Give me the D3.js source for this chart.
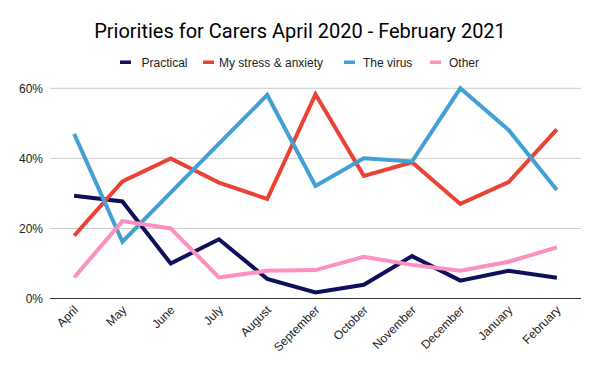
<!DOCTYPE html>
<html><head><meta charset="utf-8">
<script src="https://cdn.jsdelivr.net/npm/d3@7"></script>
<style>body{margin:0;background:#fff}svg{display:block}</style>
</head><body><svg id="c" width="600" height="371"></svg>
<script>
const months = ["April","May","June","July","August","September","October","November","December","January","February"];
const practical = [29.3,27.7,10.0,16.9,5.6,1.7,3.9,12.1,5.1,7.9,5.9];
const stress = [17.9,33.4,40.0,33.1,28.4,58.3,35.0,38.9,27.0,33.2,48.3];
const virus = [47.0,16.2,30.2,44.2,58.1,32.1,40.0,39.1,60.0,48.1,31.0];
const other = [6.0,22.1,20.0,6.0,7.9,8.1,11.9,9.6,7.9,10.5,14.6];
const seriesNames = ["Practical","My stress & anxiety","The virus","Other"];
const yTicks = [0,20,40,60];

const colors = ["#0f0f5c","#ea4335","#42a0d5","#fc90be"];
const series = [practical, stress, virus, other];
const FONT = "'Liberation Sans', Arial, sans-serif";

const svg = d3.select("#c");
const L = 50, R = 581, T = 88.3, B = 298.5;
const x = d3.scalePoint().domain(months).range([L, R]).padding(0.5);
const y = d3.scaleLinear().domain([0,60]).range([B, T]);

svg.append("text").attr("x", 300).attr("y", 37.5).attr("text-anchor","middle")
  .attr("font-family","Roboto").attr("font-size", 20).attr("fill","#000")
  .text("Priorities for Carers April 2020 - February 2021");

// gridlines
svg.append("g").selectAll("line").data(yTicks.filter(d=>d>0)).join("line")
  .attr("x1", L).attr("x2", R).attr("y1", d=>y(d)).attr("y2", d=>y(d))
  .attr("stroke","#cccccc").attr("stroke-width",1);

// y labels
const yAxis = svg.append("g").attr("transform",`translate(${L},0)`)
  .call(d3.axisLeft(y).tickValues(yTicks).tickFormat(d=>d+"%").tickSize(0).tickPadding(7));
yAxis.select(".domain").remove();
yAxis.selectAll("text").style("font-family",FONT).style("font-size","12px").attr("fill","#222");

// x axis
const xAxis = svg.append("g").attr("transform",`translate(0,${B})`)
  .call(d3.axisBottom(x).tickSize(0).tickPadding(6));
xAxis.select(".domain").attr("stroke","#333").attr("stroke-width",1.2).attr("d",`M${L},0H${R}`);
xAxis.selectAll("text").style("font-family",FONT).style("font-size","12px").attr("fill","#222")
  .attr("text-anchor","end").attr("dy","0.35em")
  .attr("transform","translate(-3,5) rotate(-45)");

// lines
const line = d3.line().x((d,i)=>x(months[i])).y(d=>y(d));
series.forEach((s,k)=>{
  svg.append("path").datum(s).attr("d", line).attr("fill","none")
    .attr("stroke", colors[k]).attr("stroke-width", 4).attr("stroke-linejoin","miter");
});

// legend
const legX = [120, 203, 344, 430];
const legT = [141.5, 219, 363, 449];
const lg = svg.append("g");
seriesNames.forEach((n,k)=>{
  lg.append("rect").attr("x", legX[k]).attr("y", 60.5).attr("width", 11).attr("height", 3.5).attr("fill", colors[k]);
  lg.append("text").attr("x", legT[k]).attr("y", 66.5).style("font-family",FONT)
    .style("font-size","12px").attr("fill","#222").text(n);
});
</script></body></html>
